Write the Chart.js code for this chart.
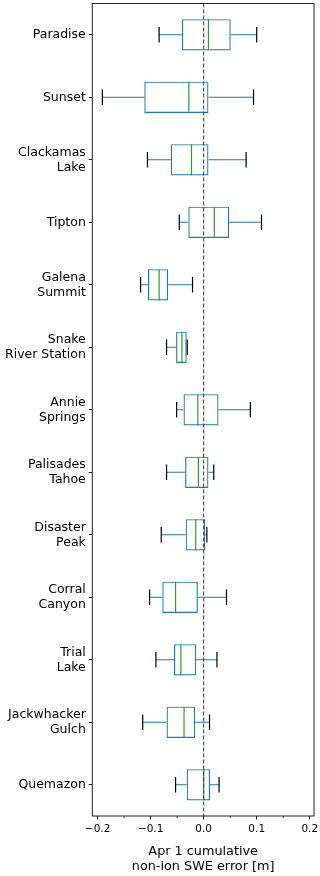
<!DOCTYPE html>
<html>
<head>
<meta charset="utf-8">
<script src="https://cdn.jsdelivr.net/npm/chart.js@4"></script>
<style>
    body { margin: 0; background: #fff; }
    #wrap { width: 320px; height: 876px; }
</style>
</head>
<body>
<div id="wrap"><canvas id="boxChart"></canvas></div>
<script>
// station names (newline = wrapped label)
const stations = [
    "Paradise", "Sunset", "Clackamas\nLake", "Tipton", "Galena\nSummit",
    "Snake\nRiver Station", "Annie\nSprings", "Palisades\nTahoe", "Disaster\nPeak",
    "Corral\nCanyon", "Trial\nLake", "Jackwhacker\nGulch", "Quemazon"
];
// box plot statistics, metres
const whiskerLow  = [-0.084, -0.191, -0.106, -0.046, -0.119, -0.070, -0.051, -0.070, -0.080, -0.102, -0.090, -0.115, -0.053];
const q1          = [-0.041, -0.112, -0.062, -0.029, -0.105, -0.052, -0.038, -0.035, -0.034, -0.078, -0.056, -0.070, -0.032];
const median      = [ 0.009, -0.028, -0.023,  0.020, -0.084, -0.041, -0.011, -0.010, -0.015, -0.053, -0.043, -0.037,  0.000];
const q3          = [ 0.051,  0.009,  0.009,  0.048, -0.067, -0.032,  0.028,  0.009,  0.003, -0.011, -0.014, -0.016,  0.012];
const whiskerHigh = [ 0.100,  0.094,  0.080,  0.109, -0.021, -0.031,  0.088,  0.019,  0.006,  0.043,  0.025,  0.011,  0.029];
const xMajorTicks = [-0.2, -0.1, 0.0, 0.1, 0.2];
const xMinorTicks = [-0.15, -0.05, 0.05, 0.15];
const xTitle = ["Apr 1 cumulative", "non-ion SWE error [m]"];

const FONT = "DejaVu Sans";
const BLUE = "#1f77b4";
const GREEN = "#2ca02c";

// whiskers, caps, medians, zero line and frame drawn with the chart's own scales
const boxParts = {
    id: "boxParts",
    afterDatasetsDraw(chart) {
        const { ctx, chartArea, scales: { x, y } } = chart;
        const band = (chartArea.bottom - chartArea.top) / stations.length;
        const boxH = band * 0.5;
        const capH = boxH * 0.5;
        ctx.save();
        stations.forEach((s, i) => {
            const cy = y.getPixelForValue(i);
            const xl = x.getPixelForValue(whiskerLow[i]);
            const x1 = x.getPixelForValue(q1[i]);
            const xm = x.getPixelForValue(median[i]);
            const x3 = x.getPixelForValue(q3[i]);
            const xh = x.getPixelForValue(whiskerHigh[i]);

            ctx.lineWidth = 1.2;
            ctx.strokeStyle = BLUE;
            ctx.beginPath();
            ctx.moveTo(xl, cy); ctx.lineTo(x1, cy);
            ctx.moveTo(x3, cy); ctx.lineTo(xh, cy);
            ctx.stroke();

            ctx.strokeStyle = "#000";
            ctx.beginPath();
            ctx.moveTo(xl, cy - capH / 2); ctx.lineTo(xl, cy + capH / 2);
            ctx.moveTo(xh, cy - capH / 2); ctx.lineTo(xh, cy + capH / 2);
            ctx.stroke();

            ctx.strokeStyle = GREEN;
            ctx.beginPath();
            ctx.moveTo(xm, cy - boxH / 2); ctx.lineTo(xm, cy + boxH / 2);
            ctx.stroke();
        });

        // dashed zero line
        const x0 = x.getPixelForValue(0);
        ctx.strokeStyle = "#333";
        ctx.lineWidth = 1;
        ctx.setLineDash([4, 2]);
        ctx.beginPath();
        ctx.moveTo(x0, chartArea.top); ctx.lineTo(x0, chartArea.bottom);
        ctx.stroke();
        ctx.setLineDash([]);

        // minor x ticks
        ctx.strokeStyle = "#000";
        ctx.lineWidth = 0.8;
        ctx.beginPath();
        xMinorTicks.forEach(v => {
            const px = x.getPixelForValue(v);
            ctx.moveTo(px, chartArea.bottom); ctx.lineTo(px, chartArea.bottom + 2);
        });
        ctx.stroke();

        // axes frame
        ctx.strokeStyle = "#222";
        ctx.lineWidth = 1;
        ctx.strokeRect(chartArea.left, chartArea.top, chartArea.right - chartArea.left, chartArea.bottom - chartArea.top);
        ctx.restore();
    }
};

const ctx = document.getElementById("boxChart").getContext("2d");
new Chart(ctx, {
    type: "bar",
    data: {
        labels: stations.map(s => s.split("\n")),
        datasets: [{
            label: "IQR",
            data: q1.map((v, i) => [v, q3[i]]),
            backgroundColor: "rgba(0,0,0,0)",
            borderColor: BLUE,
            borderWidth: 1.2,
            borderSkipped: false,
            categoryPercentage: 1,
            barPercentage: 0.5
        }]
    },
    options: {
        indexAxis: "y",
        responsive: true,
        maintainAspectRatio: false,
        animation: false,
        layout: { padding: { top: 3.5, right: 6, left: 0, bottom: 0 } },
        plugins: { legend: { display: false }, tooltip: { enabled: false } },
        scales: {
            x: {
                type: "linear",
                min: -0.21,
                max: 0.208,
                afterBuildTicks: scale => { scale.ticks = xMajorTicks.map(v => ({ value: v })); },
                afterFit: scale => { scale.height = 60; scale.paddingLeft = 0; scale.paddingRight = 0; },
                border: { display: false },
                grid: { drawOnChartArea: false, tickLength: 3.5, tickColor: "#000", tickWidth: 0.9 },
                ticks: {
                    padding: 3.5,
                    color: "#000",
                    font: { family: FONT, size: 10.5 },
                    maxRotation: 0,
                    callback: v => (v < -1e-9 ? "\u2212" + Math.abs(v).toFixed(1) : Math.abs(v).toFixed(1))
                },
                title: {
                    display: true,
                    text: xTitle,
                    color: "#000",
                    font: { family: FONT, size: 12.8, lineHeight: 1.18 },
                    padding: { top: 0, bottom: 2 }
                }
            },
            y: {
                afterFit: scale => { scale.width = 92.3; scale.paddingTop = 0; scale.paddingBottom = 0; },
                border: { display: false },
                grid: { drawOnChartArea: false, offset: false, tickLength: 3.5, tickColor: "#000", tickWidth: 0.9 },
                ticks: {
                    padding: 3,
                    color: "#000",
                    font: { family: FONT, size: 12.5, lineHeight: 1.2 }
                }
            }
        }
    },
    plugins: [boxParts]
});
</script>
</body>
</html>
